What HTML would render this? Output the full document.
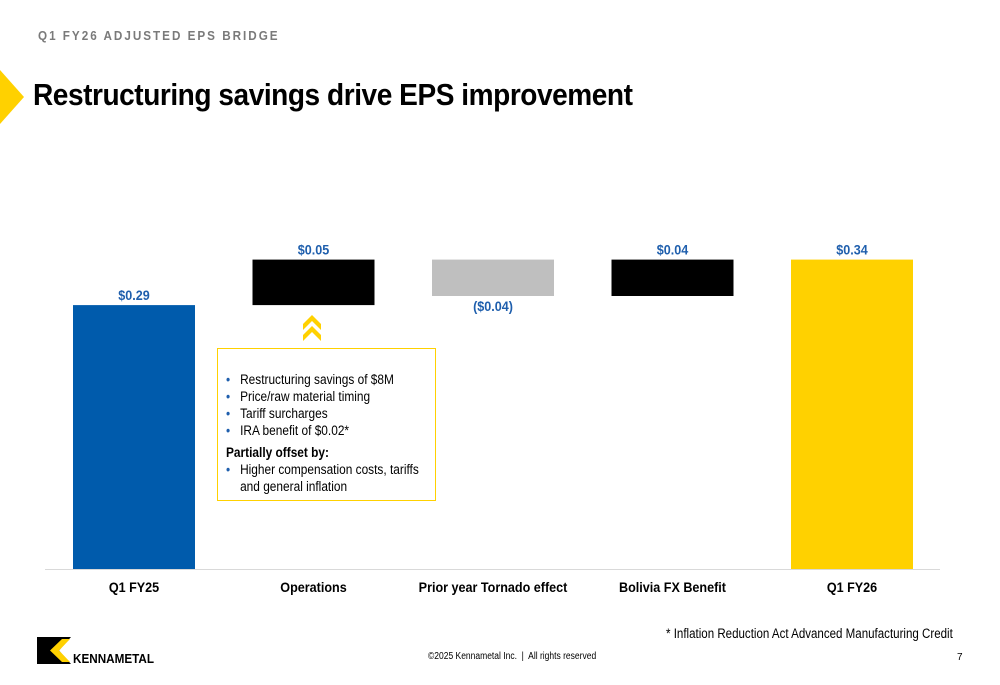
<!DOCTYPE html>
<html><head><meta charset="utf-8"><style>
body{margin:0;width:1000px;height:685px;background:#fff;position:relative;overflow:hidden;font-family:"Liberation Sans",Arial,sans-serif}
.abs{position:absolute}
</style></head><body>
<div class="abs" style="left:38px;top:28px;font-size:13px;font-weight:bold;letter-spacing:2.2px;color:#7a7a7a;white-space:nowrap;transform:scaleX(0.9);transform-origin:left">Q1 FY26 ADJUSTED EPS BRIDGE</div>
<svg class="abs" style="left:0;top:70px" width="24" height="54"><polygon points="0,0 24,27 0,54" fill="#FFD100"/></svg>
<div class="abs" style="left:33px;top:77px;font-size:31px;font-weight:bold;color:#000;letter-spacing:-0.5px;white-space:nowrap;transform:scaleX(0.905);transform-origin:left">Restructuring savings drive EPS improvement</div>

<svg class="abs" id="chart" style="left:0;top:0" width="1000" height="685"></svg>

<div class="abs" style="left:217px;top:348px;width:219px;height:153px;border:1.5px solid #FFD100;box-sizing:border-box;font-size:13.5px;color:#000;line-height:17px">
<div style="position:absolute;left:8px;top:22px;transform:scaleX(0.88);transform-origin:left;width:250px;white-space:nowrap">
<div><span style="color:#1F5FAD">•</span>&nbsp;&nbsp;&nbsp;Restructuring savings of $8M</div>
<div><span style="color:#1F5FAD">•</span>&nbsp;&nbsp;&nbsp;Price/raw material timing</div>
<div><span style="color:#1F5FAD">•</span>&nbsp;&nbsp;&nbsp;Tariff surcharges</div>
<div><span style="color:#1F5FAD">•</span>&nbsp;&nbsp;&nbsp;IRA benefit of $0.02*</div>
<div style="font-weight:bold;margin-top:5px">Partially offset by:</div>
<div><span style="color:#1F5FAD">•</span>&nbsp;&nbsp;&nbsp;Higher compensation costs, tariffs<br><span style="display:inline-block;width:16px"></span>and general inflation</div>
</div></div>

<div class="abs" style="left:666px;top:626px;font-size:13.5px;color:#000;white-space:nowrap;transform:scaleX(0.855);transform-origin:left">* Inflation Reduction Act Advanced Manufacturing Credit</div>
<div class="abs" style="left:428px;top:651px;font-size:10px;color:#000;white-space:nowrap;transform:scaleX(0.85);transform-origin:left">©2025 Kennametal Inc.&nbsp; |&nbsp; All rights reserved</div>
<div class="abs" style="left:957px;top:652px;font-size:10px;color:#000">7</div>
<svg class="abs" style="left:37px;top:637px" width="122" height="28">
<rect x="0" y="0" width="12" height="27" fill="#000"/>
<polygon points="12,0 34,0 22,13.5 34,27 12,27" fill="#000"/>
<polygon points="13,13.5 25,2 33,2 22,13.5 33,25 25,25" fill="#FFD100"/>
<text x="36" y="26" font-size="13" font-weight="bold" font-family="Liberation Sans" textLength="81" lengthAdjust="spacingAndGlyphs">KENNAMETAL</text>
</svg>

<script>
const categories=["Q1 FY25","Operations","Prior year Tornado effect","Bolivia FX Benefit","Q1 FY26"];
const deltas=[0.29,0.05,-0.04,0.04,0.34];
const kinds=["total","delta","delta","delta","total"];
const valueLabels=["$0.29","$0.05","($0.04)","$0.04","$0.34"];
const colors=["#005BAC","#000000","#BFBFBF","#000000","#FFD100"];
const svg=document.getElementById('chart');const NS='http://www.w3.org/2000/svg';
const base=569,scale=910,x0=134,step=179.5,bw=122;
const y=v=>base-v*scale;const xc=i=>x0+i*step;
let run=0;
categories.forEach((c,i)=>{
 let lo,hi;
 if(kinds[i]==="total"){lo=0;hi=deltas[i];run=deltas[i];}
 else{const s=run;run+=deltas[i];lo=Math.min(s,run);hi=Math.max(s,run);}
 const r=document.createElementNS(NS,'rect');
 
 
 r.setAttribute('x',xc(i)-bw/2);r.setAttribute('width',bw);
 r.setAttribute('y',y(hi));r.setAttribute('height',y(lo)-y(hi));r.setAttribute('fill',colors[i]);
 svg.appendChild(r);
 const t=document.createElementNS(NS,'text');
 
 
 t.setAttribute('text-anchor','middle');
 const ty=deltas[i]<0?y(lo)+15:y(hi)-5;
 t.setAttribute('transform','translate('+xc(i)+','+ty+') scale(0.9,1)');
 t.setAttribute('font-size','14');t.setAttribute('font-weight','bold');t.setAttribute('fill','#1F5FAD');
 t.setAttribute('font-family','Liberation Sans');t.textContent=valueLabels[i];svg.appendChild(t);
 const l=document.createElementNS(NS,'text');
 
 
 l.setAttribute('transform','translate('+xc(i)+',592) scale(0.9,1)');l.setAttribute('text-anchor','middle');
 l.setAttribute('font-size','14');l.setAttribute('font-weight','bold');l.setAttribute('font-family','Liberation Sans');
 l.textContent=c;svg.appendChild(l);
});
const ax=document.createElementNS(NS,'line');


ax.setAttribute('x1',45);ax.setAttribute('x2',940);ax.setAttribute('y1',base+0.5);ax.setAttribute('y2',base+0.5);ax.setAttribute('stroke','#D9D9D9');svg.appendChild(ax);
const ch=document.createElementNS(NS,'g');


ch.innerHTML='<polygon points="303,324 312,315 321,324 321,330 312,321 303,330" fill="#FFD100"/><polygon points="303,335 312,326 321,335 321,341 312,332 303,341" fill="#FFD100"/>';
svg.appendChild(ch);
</script>
</body></html>
